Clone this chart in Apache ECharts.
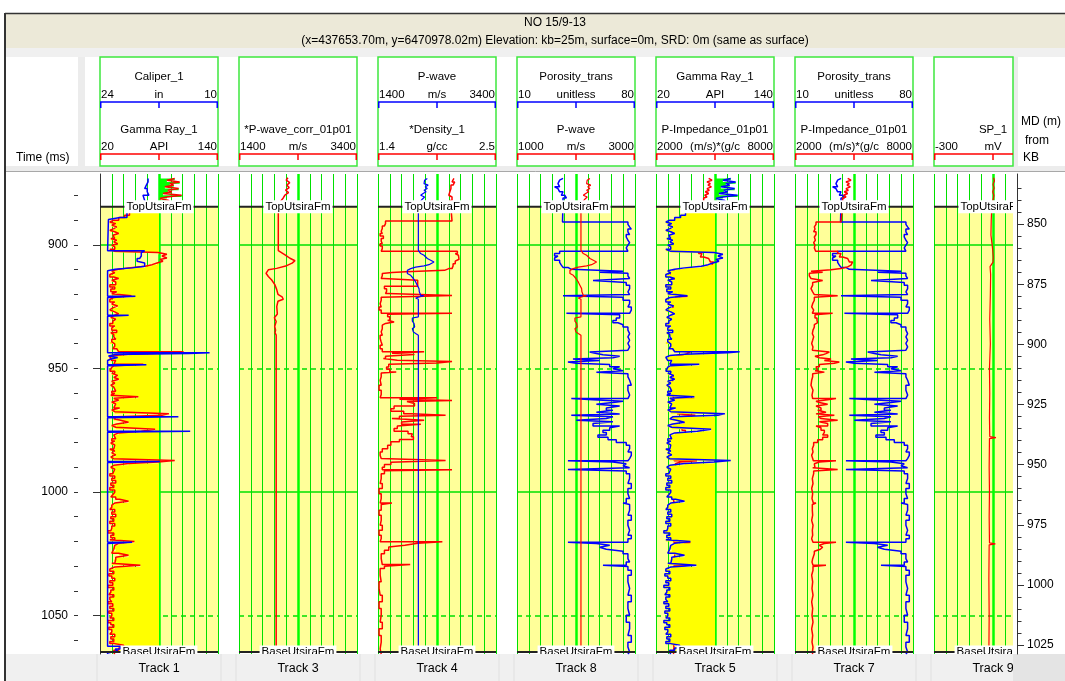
<!DOCTYPE html>
<html>
<head>
<meta charset="utf-8">
<script src="https://cdn.jsdelivr.net/npm/echarts@6/dist/echarts.min.js"></script>
<style>
  html, body { margin: 0; padding: 0; background: #ffffff; }
  #chart { width: 1065px; height: 681px; }
</style>
</head>
<body>
<div id="chart"></div>
<script>
// ---------- well header ----------
const wellTitle = 'NO 15/9-13';
const wellSubtitle = '(x=437653.70m, y=6470978.02m) Elevation: kb=25m, surface=0m, SRD: 0m (same as surface)';
const timeAxisTitle = 'Time (ms)';
const mdAxisTitle = ['MD (m)', 'from', 'KB'];
const trackTitles = ['Track 1', 'Track 3', 'Track 4', 'Track 8', 'Track 5', 'Track 7', 'Track 9'];

// ---------- vertical axes ----------
const timeRange = [871.3, 1065.6];
const timeMajorTicks = [900, 950, 1000, 1050];
const timeMinorTicks = [880, 890, 900, 910, 920, 930, 940, 950, 960, 970, 980, 990, 1000, 1010, 1020, 1030, 1040, 1050, 1060];
const mdRange = [829.2, 1028.7];
const mdMajorTicks = [850, 875, 900, 925, 950, 975, 1000, 1025];
const mdMinorTicks = [835, 840, 845, 850, 855, 860, 865, 870, 875, 880, 885, 890, 895, 900, 905, 910, 915, 920, 925,
  930, 935, 940, 945, 950, 955, 960, 965, 970, 975, 980, 985, 990, 995, 1000, 1005, 1010, 1015, 1020, 1025];

// ---------- formation tops and reference lines (ms) ----------
const formationNames = ['TopUtsiraFm', 'BaseUtsiraFm'];
const formationTimes = [884.6, 1064.8];
const solidTimeLines = [900, 1000];
const dashedTimeLines = [950, 1050];
const gammaRayCutoff = 80;

// ---------- curve scales (left value, right value) ----------
const caliperScale = [24, 10];
const gammaRayScale = [20, 140];
const pWaveCorrScale = [1400, 3400];
const pWaveScaleTrack4 = [1400, 3400];
const densityScale = [1.4, 2.5];
const porosityScale = [10, 80];
const pWaveScaleTrack8 = [1000, 3000];
const impedanceScale = [2000, 8000];
const spScale = [-300, 100];

// ---------- log curves: [time ms, value] ----------
const gammaRay1 = [
  [873.1,96],[873.8,88],[874.5,101],[875.2,91],[875.8,95],[876.5,86],[877.2,100],[877.9,89],[878.5,93],[879.2,84],
  [879.9,103],[880.6,88],[881.2,81],[882.0,90],[883.0,85],[884.0,78],[885.0,62],[886.0,50],
  [888.0,45],[888.9,39],[890.0,34],[890.7,30],[891.4,36],[892.0,32],[892.7,37],[893.4,34],[894.1,30],[894.7,35],
  [895.4,39],[896.1,33],[896.8,35],[897.4,31],[898.1,37],[898.8,34],[899.5,38],[900.1,32],[900.8,35],[901.8,30],
  [902.6,35],[903.1,79],[903.8,88],[904.5,83],[905.3,88],[905.9,81],[906.6,84],[907.3,78],[908.0,73],[908.6,66],
  [909.3,49],[909.9,39],[910.5,32],[911.3,35],[912.0,30],[913.0,34],[913.6,39],[914.3,32],[915.0,36],[916.1,30],
  [917.0,35],[917.9,31],[919.0,37],[919.8,32],[920.6,52],[921.3,34],[922.1,30],[923.1,35],[923.9,32],[924.7,38],
  [925.5,33],[926.3,30],[927.1,35],[927.9,39],[928.6,34],[929.3,31],[930.1,36],[930.9,33],[931.8,30],[932.8,35],
  [933.6,32],[934.5,37],[935.5,31],[936.3,34],[937.2,36],[938.2,32],[939.3,30],[940.1,35],[941.0,33],[942.0,37],
  [942.8,39],[943.3,105],[943.7,93],[944.3,49],[944.8,34],[945.5,30],[946.2,32],[946.8,36],[947.6,34],[948.3,64],
  [948.9,35],[949.5,32],[950.3,30],[951.1,35],[952.0,32],[952.8,38],[953.6,34],[954.4,39],[955.2,32],[956.0,35],
  [956.8,31],[957.6,34],[958.4,36],[959.2,32],[960.1,35],[960.9,31],[961.5,59],[962.1,34],[962.9,39],[963.6,32],
  [964.4,36],[965.2,34],[966.0,40],[966.8,32],[967.5,35],[968.3,90],[969.0,83],[969.6,37],[970.4,34],[971.1,42],
  [971.8,49],[972.5,37],[973.1,32],[973.8,36],[974.6,76],[975.4,62],[976.1,39],[976.9,34],[977.7,36],[978.5,32],
  [979.4,35],[980.2,31],[981.0,35],[981.8,34],[982.6,30],[983.4,35],[984.2,32],[985.0,36],[985.8,31],[986.6,34],
  [987.3,96],[987.9,79],[988.5,49],[989.2,34],[990.0,31],[990.8,35],[991.6,33],[992.6,30],[993.5,35],[994.5,32],
  [995.4,36],[996.4,31],[997.3,34],[998.2,30],[999.2,35],[1000.1,33],[1001.1,31],[1002.0,36],[1003.0,40],[1003.8,49],
  [1004.5,35],[1005.3,32],[1006.2,30],[1007.1,35],[1008.1,32],[1009.0,36],[1010.0,31],[1010.9,34],[1011.9,30],[1012.8,35],
  [1013.8,32],[1014.7,31],[1015.7,28],[1016.6,34],[1017.5,31],[1018.5,35],[1019.4,30],[1020.1,55],[1020.8,39],[1021.6,35],
  [1022.4,34],[1023.2,36],[1024.0,32],[1024.8,39],[1025.6,49],[1026.4,36],[1027.3,34],[1028.1,35],[1028.9,32],[1029.7,61],
  [1030.4,35],[1031.2,30],[1032.1,34],[1033.1,29],[1034.0,32],[1034.9,35],[1035.9,30],[1036.8,33],[1037.8,28],[1038.7,34],
  [1039.7,31],[1040.6,29],[1041.6,34],[1042.5,30],[1043.5,32],[1044.4,28],[1045.3,33],[1046.3,30],[1047.2,34],[1048.2,29],
  [1049.1,32],[1050.1,30],[1051.0,34],[1052.0,28],[1052.9,31],[1053.8,34],[1054.8,29],[1055.7,32],[1056.7,30],[1057.6,35],
  [1058.6,31],[1059.5,34],[1060.5,30],[1061.4,35],[1062.1,44],[1063.2,39],[1064.1,34],[1065.0,35],[1065.6,35]
];

const caliper1 = [
  [873.1,18.3],[874.5,18.5],[875.8,18.7],[877.2,18.4],[878.5,18.2],[879.9,18.9],[880.6,18.7],[882.0,18.6],[884.0,19.5],
  [886.0,20.8],[888.9,21.6],[889.7,23.0],[890.2,23.1],[902.4,18.7],[903.1,19.1],[904.5,19.3],[905.5,19.6],[906.6,19.4],
  [907.3,18.7],[908.6,18.5],[909.3,20.2],[909.9,22.2],[910.5,23.1],[920.8,19.8],[921.3,23.1],[928.5,20.6],[928.9,23.1],
  [943.7,11.0],[944.0,13.5],[944.4,22.2],[945.0,23.0],[945.6,21.9],[946.2,22.7],[946.8,23.1],[948.5,18.5],[948.9,23.1],
  [969.6,14.7],[970.0,23.1],[975.4,13.3],[975.8,23.1],[987.7,16.9],[988.1,23.1],[1020.4,20.2],[1020.9,23.1],
  [1062.5,21.6],[1063.6,22.2],[1064.4,21.9],[1065.2,23.1],[1065.6,23.1]
];

const pWaveCorr1 = [
  [872.8,2230],[873.8,2200],[874.8,2260],[875.8,2210],[876.8,2250],[877.8,2190],[878.8,2240],[879.8,2180],[881.0,2150],
  [882.5,2100],[884.6,2066],[902.3,2066],[902.7,2095],[904.0,2180],[905.4,2264],[906.4,2349],[907.4,2300],[908.4,2208],
  [909.5,2038],[910.1,1897],[911.5,1858],[912.8,1897],[914.2,1954],[916.2,2010],[918.0,2038],[920.0,2060],[921.0,2130],
  [922.0,2150],[922.8,2060],[925.0,2040],[928.0,2050],[929.5,2000],[931.0,2030],[933.0,2005],[934.5,2020],[935.5,2010],
  [936.5,2030],[1065.6,2030]
];

const pWave1 = [
  [873.1,2236],[873.8,2190],[874.5,2220],[875.2,2180],[875.8,2250],[876.5,2200],[877.2,2236],[877.9,2180],[878.5,2215],
  [879.2,2165],[879.9,2123],[880.6,2190],[881.5,2150],[883.0,2100],[884.6,2084],[902.2,2084],[902.8,2095],[903.5,2123],
  [904.2,2180],[904.9,2208],[905.5,2236],[906.2,2293],[906.9,2349],[907.3,2377],[908.0,2264],[908.5,2180],[909.0,2038],
  [909.6,1954],[910.3,1897],[910.9,1869],[911.6,1897],[912.3,1954],[913.0,1982],[913.6,1999],[914.3,2021],[915.0,2038],
  [915.7,2055],[916.3,2066],[917.0,2084],[917.7,2095],[918.4,2078],[919.0,2100],[919.7,2078],[920.4,2123],[920.6,2180],
  [921.1,2095],[921.5,2038],[922.0,2084],[929.1,2084],[929.6,1982],[930.2,2010],[930.9,1982],[931.8,2010],[932.5,1999],
  [933.2,2021],[933.9,1982],[934.5,2010],[935.2,1999],[935.9,2038],[936.6,2084],[1065.6,2084]
];

const density1 = [
  [873.1,2.108],[873.8,2.09],[874.5,2.115],[875.2,2.10],[875.8,2.08],[877.2,2.09],[877.9,2.07],[878.5,2.08],[879.2,2.06],
  [879.9,2.05],[880.6,2.09],[882.0,2.07],[884.0,2.08],[885.0,2.09],[890.3,1.47],[891.4,1.46],[892.3,1.44],[893.4,1.43],
  [894.5,1.44],[895.4,1.42],[896.4,1.45],[897.4,1.43],[898.5,1.44],[899.5,1.42],[900.4,1.44],[901.5,1.43],[902.6,2.14],
  [903.5,2.12],[904.2,2.15],[904.9,2.155],[905.8,2.14],[906.6,2.12],[907.6,2.10],[908.5,2.09],[909.6,2.06],[910.3,2.02],
  [910.9,1.66],[911.2,1.53],[911.6,1.44],[912.5,1.43],[913.6,1.45],[914.3,1.77],[916.7,1.46],[917.7,1.48],[918.8,1.47],
  [919.7,1.49],[920.5,2.09],[920.8,1.83],[921.2,1.43],[922.4,1.42],[923.8,1.43],[925.1,1.41],[926.4,1.43],[927.7,2.09],
  [928.1,1.49],[929.1,1.51],[930.5,1.49],[931.2,1.55],[931.8,1.47],[932.5,1.44],[933.9,1.43],[935.2,1.44],[936.6,1.42],
  [937.9,1.43],[939.3,1.44],[940.6,1.42],[942.0,1.44],[943.3,1.83],[943.9,1.53],[944.4,1.74],[945.1,1.47],[946.0,1.45],
  [946.7,1.58],[947.2,2.09],[947.8,1.95],[948.3,1.50],[949.4,1.48],[950.3,1.51],[951.4,1.57],[951.9,1.43],[953.4,1.42],
  [954.8,1.43],[956.8,1.41],[958.8,1.43],[960.6,1.42],[961.9,1.95],[962.5,1.60],[963.0,2.09],[963.4,1.67],[964.2,1.74],
  [965.2,1.55],[966.3,1.52],[967.3,1.64],[968.3,1.71],[969.0,2.03],[969.4,1.60],[970.3,1.53],[971.0,1.83],[971.7,1.62],
  [972.6,1.80],[973.3,1.58],[974.3,1.55],[975.4,1.68],[976.4,1.72],[977.0,1.71],[977.7,1.73],[978.8,1.60],[979.7,1.52],
  [981.1,1.49],[982.5,1.44],[983.8,1.42],[985.2,1.43],[986.5,1.44],[987.3,2.03],[988.0,1.52],[988.9,1.46],[990.0,1.44],
  [991.0,2.09],[991.4,1.46],[992.6,1.43],[994.6,1.42],[996.6,1.44],[998.6,1.41],[1000.7,1.43],[1002.7,1.42],[1004.5,1.53],
  [1005.1,1.43],[1007.4,1.41],[1009.4,1.43],[1011.5,1.42],[1013.5,1.44],[1015.5,1.41],[1017.5,1.43],[1018.9,1.42],
  [1020.2,2.00],[1020.8,1.77],[1021.6,1.65],[1022.3,1.50],[1023.6,1.46],[1025.0,1.43],[1027.0,1.44],[1029.4,1.70],
  [1030.1,1.46],[1031.0,1.42],[1033.7,1.43],[1036.4,1.41],[1039.1,1.42],[1041.8,1.44],[1044.5,1.41],[1047.2,1.43],
  [1049.9,1.42],[1052.7,1.44],[1055.4,1.41],[1058.1,1.43],[1060.8,1.42],[1063.5,1.43],[1065.6,1.43]
];

const porosity1 = [
  [873.1,37.3],[873.8,35.3],[874.5,34.3],[875.2,33.3],[875.8,35.3],[876.5,32.3],[877.2,34.3],[877.9,35.3],[878.5,37.3],
  [879.2,36.3],[879.9,38.3],[880.6,39.3],[881.0,37.3],[883.0,37.0],[890.7,75.8],[891.7,76.8],[892.7,77.8],[893.6,75.8],
  [894.7,76.8],[895.8,74.8],[896.8,75.8],[898.1,76.8],[899.1,75.8],[900.1,74.8],[901.2,75.8],[902.6,35.3],[903.5,32.3],
  [904.5,34.3],[905.3,32.3],[906.2,35.3],[907.1,36.3],[908.2,37.3],[909.1,40.2],[909.9,42.2],[910.7,72.9],[911.1,59.0],
  [911.5,75.8],[912.5,76.8],[913.6,75.8],[914.4,55.1],[915.2,74.8],[916.3,76.8],[917.7,75.8],[919.0,76.8],[920.1,75.8],
  [920.6,37.3],[921.2,72.9],[922.4,76.8],[923.8,75.8],[925.1,77.8],[926.4,76.8],[927.7,39.3],[928.3,70.9],[929.6,68.9],
  [930.6,66.9],[931.5,69.9],[932.3,72.9],[933.2,75.8],[934.5,76.8],[935.9,75.8],[937.2,76.8],[938.6,75.8],[939.9,76.8],
  [941.3,75.8],[942.6,74.8],[943.4,53.1],[944.0,57.1],[944.5,61.0],[945.1,70.9],[945.7,66.9],[946.2,43.2],[946.8,59.0],
  [947.4,40.2],[947.9,45.2],[948.4,65.0],[949.3,70.9],[950.1,66.9],[950.9,72.9],[951.5,57.1],[952.2,75.8],[953.4,76.8],
  [954.8,77.8],[956.8,75.8],[958.8,76.8],[960.8,75.8],[962.2,42.2],[962.7,55.1],[963.3,72.9],[963.8,66.9],[964.5,57.1],
  [965.2,70.9],[966.0,63.0],[966.9,66.9],[967.7,57.1],[968.4,70.9],[969.0,42.2],[969.6,66.9],[970.3,63.0],[971.0,45.2],
  [971.6,66.9],[972.3,55.1],[973.3,70.9],[974.0,65.0],[975.0,61.0],[975.9,63.0],[977.0,58.0],[977.9,64.0],[978.9,68.9],
  [980.0,74.8],[981.1,76.8],[982.5,75.8],[983.8,77.8],[985.2,76.8],[986.5,75.8],[987.4,40.2],[987.9,66.9],[988.6,74.8],
  [989.4,72.9],[990.2,76.8],[990.9,40.2],[991.5,74.8],[992.6,76.8],[994.6,75.8],[996.6,77.8],[998.6,75.8],[1000.7,76.8],
  [1002.7,74.8],[1004.5,72.9],[1005.1,76.8],[1007.4,75.8],[1009.4,77.8],[1011.5,75.8],[1013.5,76.8],[1015.5,75.8],
  [1017.5,77.8],[1018.9,75.8],[1020.4,40.2],[1020.9,57.1],[1021.6,65.0],[1022.4,59.0],[1023.2,63.0],[1024.0,72.9],
  [1025.0,75.8],[1027.0,76.8],[1028.4,74.8],[1029.7,61.0],[1030.2,75.8],[1031.7,77.8],[1033.7,75.8],[1036.4,76.8],
  [1039.1,75.8],[1041.8,77.8],[1044.5,75.8],[1047.2,76.8],[1049.9,74.8],[1052.7,76.8],[1055.4,75.8],[1058.1,77.8],
  [1060.8,75.8],[1062.8,76.8],[1064.8,75.8],[1065.6,75.8]
];

const pImpedance1 = [
  [873.1,4678],[873.8,4848],[874.5,4593],[875.2,4763],[875.8,4644],[876.5,4814],[877.2,4593],[877.9,4712],[878.5,4509],
  [879.2,4678],[879.9,4475],[880.6,4593],[881.0,4424],[883.0,4339],[890.7,3068],[891.7,2983],[892.7,3017],[893.6,2949],
  [894.7,3068],[895.8,2983],[896.8,3034],[898.1,2949],[899.1,3017],[900.1,2983],[901.2,3051],[902.6,4170],[903.5,4339],
  [904.2,4254],[904.9,4424],[905.5,4678],[906.2,4763],[906.9,4932],[907.6,4848],[908.2,4932],[908.9,4678],[909.6,4339],
  [910.1,3831],[910.7,2814],[911.1,3407],[911.5,2729],[912.5,2814],[913.6,2898],[914.4,3407],[915.2,2898],[916.3,2814],
  [917.7,2898],[919.0,2983],[920.1,2898],[920.6,4170],[921.2,2983],[922.4,2898],[923.8,2848],[925.1,2949],[926.4,2881],
  [927.7,3915],[928.3,3017],[929.6,3119],[930.6,3153],[931.5,3068],[932.3,2983],[933.2,2915],[934.5,2881],[935.9,2949],
  [937.2,2898],[938.6,2848],[939.9,2915],[941.3,2881],[942.6,2949],[943.4,3746],[944.0,3576],[944.5,3407],[945.1,3017],
  [945.7,3237],[946.2,3831],[946.8,3492],[947.4,4254],[947.9,4000],[948.4,3237],[949.3,3068],[950.1,3153],[950.9,3017],
  [951.5,3492],[952.2,2898],[953.4,2848],[954.8,2814],[956.8,2915],[958.8,2865],[960.8,2898],[962.2,4085],[962.7,3661],
  [963.3,3068],[963.8,3237],[964.5,3661],[965.2,3068],[966.0,3322],[966.9,3153],[967.7,3576],[968.4,3068],[969.0,4000],
  [969.6,3187],[970.3,3322],[971.0,4170],[971.6,3237],[972.3,3661],[973.3,3068],[974.0,3322],[975.0,3492],[975.9,3407],
  [977.0,3661],[977.9,3407],[978.9,3153],[980.0,2949],[981.1,2881],[982.5,2915],[983.8,2848],[985.2,2898],[986.5,2932],
  [987.4,4085],[987.9,3237],[988.6,2983],[989.4,3017],[990.2,2898],[990.9,4170],[991.5,2949],[992.6,2881],[994.6,2915],
  [996.6,2848],[998.6,2898],[1000.7,2865],[1002.7,2932],[1004.5,3068],[1005.1,2881],[1007.4,2898],[1009.4,2848],
  [1011.5,2915],[1013.5,2881],[1015.5,2898],[1017.5,2848],[1018.9,2915],[1020.4,4085],[1020.9,3492],[1021.6,3237],
  [1022.4,3407],[1023.2,3288],[1024.0,2983],[1025.0,2898],[1027.0,2865],[1028.4,2915],[1029.7,3576],[1030.2,2915],
  [1031.7,2848],[1033.7,2898],[1036.4,2865],[1039.1,2915],[1041.8,2848],[1044.5,2898],[1047.2,2865],[1049.9,2915],
  [1052.7,2848],[1055.4,2898],[1058.1,2865],[1060.8,2915],[1062.8,2881],[1064.8,2898],[1065.6,2898]
];

const sp1 = [
  [872.8,-98],[874.0,-95],[875.5,-100],[877.0,-96],[878.5,-101],[880.0,-97],[882.0,-100],[884.6,-104],[890.0,-106],
  [896.0,-107],[899.0,-104],[902.0,-101],[905.0,-99],[907.0,-100],[908.8,-110],[912.0,-108],[920.0,-109],[930.0,-111],
  [940.0,-109],[950.0,-112],[960.0,-111],[970.0,-112],[977.6,-111],[978.0,-90],[978.4,-112],[990.0,-113],[1000.0,-112],
  [1010.0,-113],[1020.6,-112],[1021.0,-92],[1021.4,-113],[1035.0,-114],[1050.0,-113],[1065.6,-114]
];

// ---------- styling ----------
const FONT = '"Liberation Sans", Arial, sans-serif';
const RED = '#ff0000', BLUE = '#0000ff';
const GRID_GREEN = '#00e000', BOX_GREEN = '#3ee83e';
const LIGHT_YELLOW = '#ffff99', SAND_YELLOW = '#ffff00', SHALE_GREEN = '#00ff00';
const TRACK_W = 118, GRID_TOP = 174, GRID_H = 480;
const plainNumber = function (v) { return String(v); };

const tracks = [
  { footer: trackTitles[0], left: 100, visible: 1, curves: [
    { title: 'Caliper_1', unit: 'in', scale: caliperScale, data: caliper1, color: BLUE, slot: 0, z: 7, step: true },
    { title: 'Gamma Ray_1', unit: 'API', scale: gammaRayScale, data: gammaRay1, color: RED, slot: 1, z: 6, step: true, fill: true }] },
  { footer: trackTitles[1], left: 239, visible: 1, curves: [
    { title: '*P-wave_corr_01p01', unit: 'm/s', scale: pWaveCorrScale, data: pWaveCorr1, color: RED, slot: 1, z: 6, width: 1.5 }] },
  { footer: trackTitles[2], left: 378, visible: 1, curves: [
    { title: 'P-wave', unit: 'm/s', scale: pWaveScaleTrack4, data: pWave1, color: BLUE, slot: 0, z: 7, width: 1.2 },
    { title: '*Density_1', unit: 'g/cc', scale: densityScale, data: density1, color: RED, slot: 1, z: 6, step: true }] },
  { footer: trackTitles[3], left: 517, visible: 1, curves: [
    { title: 'Porosity_trans', unit: 'unitless', scale: porosityScale, data: porosity1, color: BLUE, slot: 0, z: 6, step: true },
    { title: 'P-wave', unit: 'm/s', scale: pWaveScaleTrack8, data: pWave1, color: RED, slot: 1, z: 7, width: 1.2 }] },
  { footer: trackTitles[4], left: 656, visible: 1, curves: [
    { title: 'Gamma Ray_1', unit: 'API', scale: gammaRayScale, data: gammaRay1, color: BLUE, slot: 0, z: 7, step: true, fill: true },
    { title: 'P-Impedance_01p01', unit: '(m/s)*(g/c', scale: impedanceScale, data: pImpedance1, color: RED, slot: 1, z: 4, step: true }] },
  { footer: trackTitles[5], left: 795, visible: 1, curves: [
    { title: 'Porosity_trans', unit: 'unitless', scale: porosityScale, data: porosity1, color: BLUE, slot: 0, z: 6, step: true },
    { title: 'P-Impedance_01p01', unit: '(m/s)*(g/c', scale: impedanceScale, data: pImpedance1, color: RED, slot: 1, z: 7, step: true }] },
  { footer: trackTitles[6], left: 934, visible: 79 / 118, curves: [
    { title: 'SP_1', unit: 'mV', scale: spScale, data: sp1, color: RED, slot: 1, z: 6, width: 1.2 }] }
];

// ---------- page furniture (header, footer) ----------
const graphics = [];
function gRect(x, y, w, h, fill, stroke, lw) {
  graphics.push({ type: 'rect', silent: true, shape: { x, y, width: w, height: h },
    style: { fill: fill, stroke: stroke || null, lineWidth: lw || 0 } });
}
function gLine(x1, y1, x2, y2, stroke, lw) {
  graphics.push({ type: 'line', silent: true, shape: { x1, y1, x2, y2 }, style: { stroke, lineWidth: lw } });
}
function gText(x, y, s, align, size) {
  graphics.push({ type: 'text', silent: true, x, y,
    style: { text: s, font: (size || 12) + 'px ' + FONT, fill: '#000', align: align || 'left', textAlign: align || 'left',
      verticalAlign: 'middle', textVerticalAlign: 'middle' } });
}

// frame and title bar
gRect(5, 14, 1060, 34, '#ece9d8');
gLine(5, 13.5, 1065, 13.5, '#333', 1.5);
gLine(5, 13, 5, 681, '#333', 2);
gText(555, 23, wellTitle, 'center');
gText(555, 41, wellSubtitle, 'center');
// header row
gRect(6, 48, 1059, 9, '#f0f0f0');
gRect(78, 57, 7, 109, '#ececec');
gRect(1012, 57, 6, 109, '#ececec');
gRect(6, 166, 1059, 6, '#ececec');
gLine(6, 171.5, 1065, 171.5, '#a8a8a8', 1);
gText(16, 158, timeAxisTitle, 'left');
gText(1021, 122, mdAxisTitle[0], 'left');
gText(1025, 141, mdAxisTitle[1], 'left');
gText(1023, 158, mdAxisTitle[2], 'left');

const SLOT_Y = [{ title: 77, values: 95, bar: 102 }, { title: 130, values: 147, bar: 154 }];
tracks.forEach(function (tr) {
  const w = TRACK_W * tr.visible;
  const cx = tr.left + TRACK_W / 2;
  gRect(tr.left, 57, w, 109, '#ffffff', BOX_GREEN, 1.5);
  tr.curves.forEach(function (c) {
    const s = SLOT_Y[c.slot];
    gText(cx, s.title, c.title, 'center', 11.5);
    gText(tr.left + 1, s.values, String(c.scale[0]), 'left', 11.5);
    gText(cx, s.values, c.unit, 'center', 11.5);
    if (tr.visible === 1) gText(tr.left + TRACK_W - 1, s.values, String(c.scale[1]), 'right', 11.5);
    gLine(tr.left, s.bar, tr.left + w, s.bar, c.color, 1.5);
    [tr.left + 0.75, cx, tr.left + TRACK_W - 0.75].forEach(function (tx) {
      if (tx <= tr.left + w) gLine(tx, s.bar, tx, s.bar + 6, c.color, 1.5);
    });
  });
});

// footer
gRect(6, 654, 1059, 27, '#f0f0f0');
tracks.forEach(function (tr) {
  gLine(tr.left - 3, 654, tr.left - 3, 681, '#e0e0e0', 1);
  gLine(tr.left + TRACK_W + 3, 654, tr.left + TRACK_W + 3, 681, '#e0e0e0', 1);
  gText(tr.left + TRACK_W / 2, 669, tr.footer, 'center', 12.5);
});
gRect(1013, 654, 52, 27, '#e4e4e4');

// ---------- chart construction ----------
const grids = [], xAxes = [], yAxes = [], series = [];

function lithologyFill(data, xAxisIndex, yAxisIndex) {
  return {
    type: 'custom', xAxisIndex, yAxisIndex, z: 5, silent: true, animation: false,
    data: [[gammaRayCutoff, formationTimes[0]]],
    renderItem: function (params, api) {
      const cs = params.coordSys;
      function band(lo, hi, pick) {
        const pts = [];
        let first = null, last = null;
        for (let i = 0; i < data.length; i++) {
          const t0 = data[i][0];
          const t1 = i + 1 < data.length ? data[i + 1][0] : timeRange[1];
          const a = Math.max(t0, lo), b = Math.min(t1, hi);
          if (a < b) {
            if (first === null) first = a;
            last = b;
            const x = pick(data[i][1]);
            pts.push(api.coord([x, a]), api.coord([x, b]));
          }
        }
        if (first === null) return null;
        return [api.coord([gammaRayCutoff, first])].concat(pts, [api.coord([gammaRayCutoff, last])]);
      }
      const sand = band(formationTimes[0], formationTimes[1], function (v) { return Math.min(v, gammaRayCutoff); });
      const shale = band(-Infinity, formationTimes[0], function (v) { return Math.max(v, gammaRayCutoff); });
      const children = [];
      if (shale) children.push({ type: 'polygon', shape: { points: shale }, style: { fill: SHALE_GREEN } });
      if (sand) children.push({ type: 'polygon', shape: { points: sand }, style: { fill: SAND_YELLOW } });
      return { type: 'group', clipPath: { type: 'rect', shape: { x: cs.x, y: cs.y, width: cs.width, height: cs.height } }, children };
    }
  };
}

tracks.forEach(function (tr, i) {
  const w = TRACK_W * tr.visible;
  grids.push({ left: tr.left, top: GRID_TOP, width: w, height: GRID_H, show: false });

  // time axis for this track
  const yIndex = yAxes.length;
  if (i === 0) {
    yAxes.push({ gridIndex: i, type: 'value', min: timeRange[0], max: timeRange[1], inverse: true,
      position: 'left', offset: 22, z: 4,
      axisLine: { show: true, lineStyle: { color: '#333', width: 1 } },
      axisTick: { show: true, length: 7, customValues: timeMajorTicks, lineStyle: { color: '#333' } },
      axisLabel: { show: true, customValues: timeMajorTicks, formatter: plainNumber, margin: 10, color: '#000', fontSize: 12, fontFamily: FONT },
      splitLine: { show: false } });
    yAxes.push({ gridIndex: i, type: 'value', min: timeRange[0], max: timeRange[1], inverse: true,
      position: 'left', offset: 22, z: 4,
      axisLine: { show: false },
      axisTick: { show: true, length: 4, customValues: timeMinorTicks, lineStyle: { color: '#333' } },
      axisLabel: { show: false }, splitLine: { show: false } });
  } else {
    yAxes.push({ gridIndex: i, type: 'value', min: timeRange[0], max: timeRange[1], inverse: true, show: false });
  }

  // division lines of the track (ten equal divisions)
  const divIndex = xAxes.length;
  xAxes.push({ gridIndex: i, type: 'value', min: 0, max: 10 * tr.visible, interval: 1, z: 2,
    axisLine: { show: false }, axisTick: { show: false }, axisLabel: { show: false },
    splitLine: { show: true, showMaxLine: tr.visible === 1, lineStyle: { color: GRID_GREEN, width: 1 } } });

  // formation interval shading and time reference lines
  series.push({ type: 'line', data: [], xAxisIndex: divIndex, yAxisIndex: yIndex, silent: true, z: 1,
    markArea: { silent: true, z: 1, itemStyle: { color: LIGHT_YELLOW },
      data: [[{ yAxis: formationTimes[0] }, { yAxis: formationTimes[1] }]] } });
  series.push({ type: 'line', data: [], xAxisIndex: divIndex, yAxisIndex: yIndex, silent: true, z: 3,
    markLine: { silent: true, z: 3, symbol: 'none', label: { show: false }, animation: false,
      data: solidTimeLines.map(function (t) { return { yAxis: t, lineStyle: { color: GRID_GREEN, width: 1.6, type: 'solid' } }; })
        .concat(dashedTimeLines.map(function (t) { return { yAxis: t, lineStyle: { color: GRID_GREEN, width: 1.5, type: [5, 4] } }; }))
        .concat([{ xAxis: 5, lineStyle: { color: '#00ff00', width: 2.5, type: 'solid' } }]) } });

  // curves
  tr.curves.forEach(function (c) {
    const lo = c.scale[0], hi = c.scale[1];
    const visHi = lo + (hi - lo) * tr.visible;
    const xi = xAxes.length;
    xAxes.push({ gridIndex: i, type: 'value', show: false, min: Math.min(lo, visHi), max: Math.max(lo, visHi), inverse: lo > hi });
    series.push({ type: 'line', name: c.title, xAxisIndex: xi, yAxisIndex: yIndex, z: c.z,
      data: c.data.map(function (p) { return [p[1], p[0]]; }),
      step: c.step ? 'start' : false, symbol: 'none', showSymbol: false, silent: true, clip: true,
      lineStyle: { color: c.color, width: c.width || 1.5 } });
    if (c.fill) series.push(lithologyFill(c.data, xi, yIndex));
  });

  // formation tops
  series.push({ type: 'custom', xAxisIndex: divIndex, yAxisIndex: yIndex, z: 8, silent: true,
    data: formationTimes.map(function (t, k) { return [5, t, k]; }),
    renderItem: function (params, api) {
      const cs = params.coordSys;
      const p = api.coord([api.value(0), api.value(1)]);
      return { type: 'group', clipPath: { type: 'rect', shape: { x: cs.x, y: cs.y, width: cs.width, height: cs.height } },
        children: [
          { type: 'line', shape: { x1: cs.x, y1: p[1], x2: cs.x + cs.width, y2: p[1] }, style: { stroke: '#222', lineWidth: 2 } },
          { type: 'text', x: p[0], y: p[1], style: { text: formationNames[api.value(2)], font: '11.5px ' + FONT, fill: '#000',
            align: 'center', verticalAlign: 'middle', backgroundColor: '#ffffff', padding: [1, 2, 0, 2] } }
        ] };
    } });
});

// measured-depth axis on the right
const mdGrid = grids.length;
grids.push({ left: 1017, top: GRID_TOP, width: 1, height: GRID_H, show: false });
xAxes.push({ gridIndex: mdGrid, type: 'value', show: false, min: 0, max: 1 });
yAxes.push({ gridIndex: mdGrid, type: 'value', min: mdRange[0], max: mdRange[1], inverse: true, position: 'right',
  axisLine: { show: true, lineStyle: { color: '#333', width: 1 } },
  axisTick: { show: true, length: 7, customValues: mdMajorTicks, lineStyle: { color: '#333' } },
  axisLabel: { show: true, customValues: mdMajorTicks, formatter: plainNumber, margin: 9, color: '#000', fontSize: 12, fontFamily: FONT },
  splitLine: { show: false } });
yAxes.push({ gridIndex: mdGrid, type: 'value', min: mdRange[0], max: mdRange[1], inverse: true, position: 'right',
  axisLine: { show: false },
  axisTick: { show: true, length: 3.5, customValues: mdMinorTicks, lineStyle: { color: '#333' } },
  axisLabel: { show: false }, splitLine: { show: false } });

const chart = echarts.init(document.getElementById('chart'), null, { renderer: 'canvas' });
chart.setOption({
  animation: false,
  backgroundColor: '#ffffff',
  graphic: { elements: graphics },
  grid: grids,
  xAxis: xAxes,
  yAxis: yAxes,
  series: series
});
</script>
</body>
</html>
